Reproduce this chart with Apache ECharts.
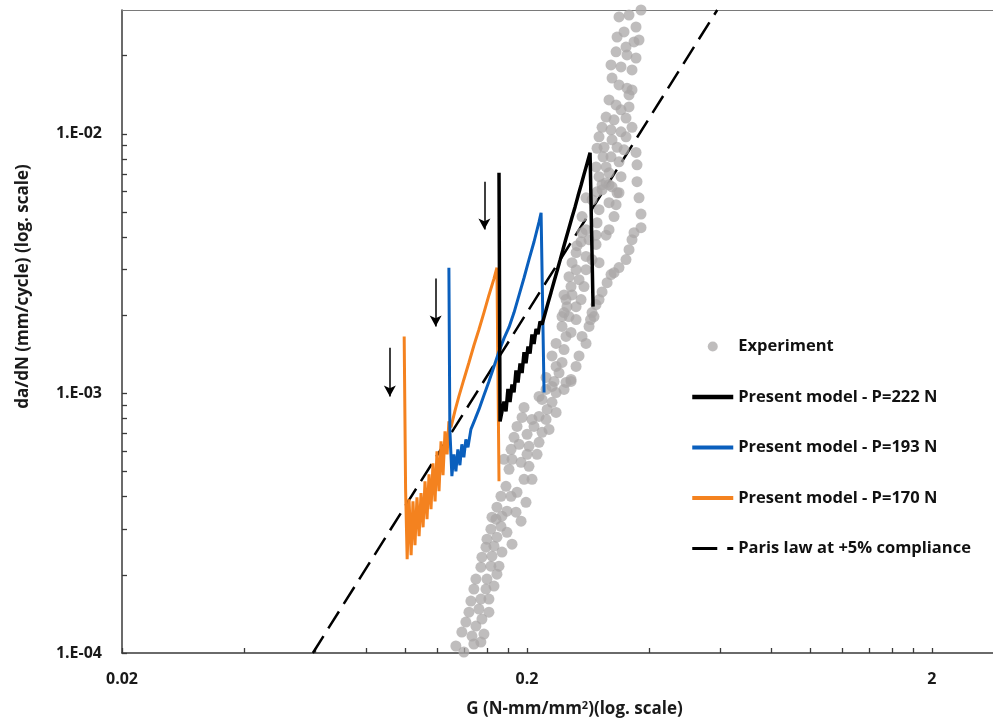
<!DOCTYPE html>
<html>
<head>
<meta charset="utf-8">
<title>da/dN vs G</title>
<script src="https://cdn.jsdelivr.net/npm/echarts@6/dist/echarts.min.js"></script>
<style>
  html, body { margin: 0; padding: 0; background: #fff; }
  #chart { width: 993px; height: 723px; }
</style>
</head>
<body>
<div id="chart"></div>
<script>
// [G (N-mm/mm2), da/dN (mm/cycle)] pairs, both drawn on log10 axes
var experiment = [
  [0.1335,1.064e-4],[0.1397,1.009e-4],[0.1479,1.083e-4],[0.1539,1.102e-4],
  [0.1381,1.204e-4],[0.1463,1.162e-4],[0.1566,1.183e-4],[0.1413,1.316e-4],
  [0.1496,1.270e-4],[0.1548,1.351e-4],[0.1438,1.437e-4],[0.1522,1.476e-4],
  [0.1611,1.437e-4],[0.1454,1.585e-4],[0.1539,1.614e-4],[0.1611,1.614e-4],
  [0.1479,1.763e-4],[0.1584,1.763e-4],[0.1658,1.811e-4],[0.1496,1.926e-4],
  [0.1593,1.926e-4],[0.1686,2.013e-4],[0.1539,2.142e-4],[0.1629,2.161e-4],
  [0.1706,2.161e-4],[0.1548,2.340e-4],[0.1639,2.361e-4],[0.1735,2.448e-4],
  [0.1584,2.557e-4],[0.1658,2.580e-4],[0.1593,2.744e-4],[0.1686,2.793e-4],
  [0.1837,2.626e-4],[0.1629,2.998e-4],[0.1725,3.075e-4],[0.1785,2.918e-4],
  [0.1639,3.335e-4],[0.1735,3.365e-4],[0.1934,3.219e-4],[0.1686,3.644e-4],
  [0.1785,3.517e-4],[0.1879,3.486e-4],[0.1725,4.017e-4],[0.1827,4.017e-4],
  [0.1989,3.808e-4],[0.1775,4.388e-4],[0.1890,4.162e-4],[0.1806,5.101e-4],
  [0.1837,5.574e-4],[0.1827,6.089e-4],[0.1934,5.426e-4],[0.2023,5.240e-4],
  [0.2058,4.669e-4],[0.1967,4.669e-4],[0.1858,6.772e-4],[0.1890,7.464e-4],
  [0.1945,8.084e-4],[0.1967,8.835e-4],[0.2001,6.956e-4],[0.2023,6.254e-4],
  [0.2118,5.827e-4],[0.2142,6.480e-4],[0.2082,7.464e-4],[0.2179,7.080e-4],
  [0.2142,8.157e-4],[0.2229,7.943e-4],[0.2267,7.269e-4],[0.2179,9.482e-4],
  [0.2306,9.237e-4],[0.2360,8.450e-4],[0.2229,1.036e-3],[0.2360,1.008e-3],
  [0.2469,1.036e-3],[0.2497,1.102e-3],[0.2333,1.112e-3],[0.2569,1.112e-3],
  [0.2142,9.740e-4],[0.2306,1.064e-3],[0.2229,1.152e-3],[0.2360,1.270e-3],
  [0.2441,1.316e-3],[0.2306,1.394e-3],[0.2469,1.476e-3],[0.2360,1.558e-3],
  [0.2497,1.658e-3],[0.2441,1.811e-3],[0.2569,1.717e-3],[0.2540,1.978e-3],
  [0.2644,1.926e-3],[0.2735,1.658e-3],[0.2846,1.811e-3],[0.2798,1.558e-3],
  [0.2689,1.394e-3],[0.2644,1.270e-3],[0.2569,1.132e-3],[0.2441,1.978e-3],
  [0.2511,2.159e-3],[0.2644,2.159e-3],[0.2895,2.049e-3],[0.2962,2.199e-3],
  [0.2469,2.395e-3],[0.2584,2.395e-3],[0.2720,2.299e-3],[0.2569,2.579e-3],
  [0.2689,2.744e-3],[0.2766,2.579e-3],[0.2540,2.818e-3],[0.2644,2.998e-3],
  [0.2798,2.998e-3],[0.3065,2.460e-3],[0.3154,2.672e-3],[0.3281,2.919e-3],
  [0.3375,3.055e-3],[0.3512,3.277e-3],[0.3573,3.580e-3],[0.3634,3.911e-3],
  [0.3676,4.160e-3],[0.3825,4.350e-3],[0.3825,4.910e-3],[0.3782,5.670e-3],
  [0.3739,6.540e-3],[0.3319,5.333e-3],[0.3281,4.800e-3],[0.3375,5.930e-3],
  [0.3189,4.273e-3],[0.3136,4.070e-3],[0.2962,3.750e-3],[0.2846,3.911e-3],
  [0.2720,3.840e-3],[0.2644,3.490e-3],[0.2798,3.370e-3],[0.2895,3.277e-3],
  [0.3013,3.190e-3],[0.2735,4.800e-3],[0.2798,4.273e-3],[0.2979,4.545e-3],
  [0.3013,5.101e-3],[0.2895,5.574e-3],[0.3065,6.089e-3],[0.3189,5.430e-3],
  [0.3136,6.480e-3],[0.2798,5.670e-3],[0.2962,4.070e-3],[0.2735,4.160e-3],
  [0.2659,3.710e-3],[0.2584,3.190e-3],[0.2497,2.299e-3],[0.2469,2.049e-3],
  [0.3225,2.869e-3],[0.2928,1.978e-3],[0.2871,1.926e-3],[0.3013,2.299e-3],
  [0.2400,1.200e-3],[0.2243,8.678e-4],[0.2058,7.943e-4],[0.2001,5.827e-4],
  [0.1912,6.366e-4],[0.1755,5.574e-4],[0.1677,3.277e-4],[0.3189,6.366e-3],
  [0.3473,8.678e-3],[0.3573,1.412e-2],[0.3782,2.299e-2],[0.3225,1.843e-2],
  [0.3825,3.000e-2],[0.3573,2.869e-2],[0.3375,2.820e-2],[0.3718,2.580e-2],
  [0.3473,2.470e-2],[0.3338,2.360e-2],[0.3676,2.260e-2],[0.3512,2.160e-2],
  [0.3319,2.070e-2],[0.3718,1.960e-2],[0.3532,2.013e-2],[0.3414,1.810e-2],
  [0.3634,1.763e-2],[0.3244,1.640e-2],[0.3375,1.543e-2],[0.3532,1.500e-2],
  [0.3634,1.476e-2],[0.3189,1.351e-2],[0.3319,1.293e-2],[0.3573,1.270e-2],
  [0.3414,1.237e-2],[0.3136,1.160e-2],[0.3281,1.132e-2],[0.3512,1.150e-2],
  [0.3634,1.060e-2],[0.3065,1.060e-2],[0.3225,1.036e-2],[0.3414,1.018e-2],
  [0.3013,9.740e-3],[0.3244,9.482e-3],[0.3512,9.740e-3],[0.3100,8.880e-3],
  [0.3338,8.880e-3],[0.2979,8.800e-3],[0.3718,8.480e-3],[0.3082,8.160e-3],
  [0.3225,8.160e-3],[0.2962,7.460e-3],[0.3136,7.460e-3],[0.3375,7.800e-3],
  [0.3013,6.840e-3],[0.3189,7.080e-3],[0.3414,6.840e-3],[0.3739,7.600e-3],
  [0.3065,6.366e-3],[0.3244,6.250e-3],[0.3338,5.930e-3],[0.2979,5.980e-3]
];

var model222 = [
  [0.1706,7.08e-3],[0.1716,7.80e-4],[0.1735,7.80e-4],[0.1755,9.31e-4],
  [0.1775,8.53e-4],[0.1795,1.040e-3],[0.1816,9.27e-4],[0.1837,1.083e-3],
  [0.1858,1.009e-3],[0.1879,1.226e-3],[0.1901,1.102e-3],[0.1923,1.304e-3],
  [0.1945,1.199e-3],[0.1967,1.443e-3],[0.1989,1.307e-3],[0.2012,1.516e-3],
  [0.2035,1.425e-3],[0.2058,1.687e-3],[0.2082,1.551e-3],[0.2106,1.771e-3],
  [0.2130,1.691e-3],[0.2154,1.893e-3],[0.2179,1.843e-3],[0.2217,2.03e-3],
  [0.2254,2.23e-3],[0.2293,2.45e-3],[0.2333,2.70e-3],[0.2373,2.96e-3],
  [0.2414,3.26e-3],[0.2455,3.59e-3],[0.2497,3.95e-3],[0.2540,4.34e-3],
  [0.2584,4.77e-3],[0.2629,5.23e-3],[0.2674,5.77e-3],[0.2720,6.34e-3],
  [0.2766,6.98e-3],[0.2814,7.68e-3],[0.2863,8.45e-3],[0.2912,2.16e-3]
];

var model193 = [
  [0.1283,3.05e-3],[0.1290,7.269e-4],[0.1305,4.80e-4],[0.1320,5.827e-4],
  [0.1335,5.01e-4],[0.1350,6.089e-4],[0.1366,5.29e-4],[0.1381,6.366e-4],
  [0.1397,5.67e-4],[0.1413,6.654e-4],[0.1430,6.20e-4],[0.1454,7.269e-4],
  [0.1488,7.943e-4],[0.1522,8.678e-4],[0.1566,9.83e-4],[0.1611,1.112e-3],
  [0.1658,1.27e-3],[0.1706,1.45e-3],[0.1755,1.63e-3],[0.1806,1.80e-3],
  [0.1858,2.049e-3],[0.1912,2.39e-3],[0.1967,2.79e-3],[0.2023,3.277e-3],
  [0.2082,3.84e-3],[0.2142,4.58e-3],[0.2167,4.96e-3],[0.2204,1.008e-3]
];

var model170 = [
  [0.0995,1.658e-3],[0.1003,4.273e-4],[0.1012,2.299e-4],[0.1023,3.911e-4],
  [0.1035,2.38e-4],[0.1046,3.84e-4],[0.1058,2.60e-4],[0.1070,3.98e-4],
  [0.1083,2.82e-4],[0.1095,4.13e-4],[0.1108,3.05e-4],[0.1120,4.59e-4],
  [0.1133,3.277e-4],[0.1146,4.881e-4],[0.1159,3.580e-4],[0.1172,5.38e-4],
  [0.1186,3.84e-4],[0.1199,5.98e-4],[0.1213,4.20e-4],[0.1227,6.54e-4],
  [0.1241,4.84e-4],[0.1255,7.14e-4],[0.1270,5.827e-4],[0.1283,7.80e-4],
  [0.1298,7.40e-4],[0.1331,8.678e-4],[0.1358,9.74e-4],[0.1397,1.132e-3],
  [0.1438,1.316e-3],[0.1479,1.53e-3],[0.1522,1.763e-3],[0.1566,2.049e-3],
  [0.1611,2.39e-3],[0.1658,2.77e-3],[0.1686,3.05e-3],[0.1706,4.59e-4]
];

var parisLaw = [[0.0592, 1.0e-4], [0.590, 3.0e-2]];

// arrows marking the start of each model curve: [from, to]
var arrows = [
  [[0.0917, 1.50e-3], [0.0917, 9.74e-4]],
  [[0.119, 2.77e-3], [0.119, 1.81e-3]],
  [[0.157, 6.54e-3], [0.157, 4.28e-3]]
];

var xTicks = [0.02, 0.2, 2];
var xTickText = ['0.02', '0.2', '2'];
var xMinor = [0.04, 0.06, 0.08, 0.1, 0.12, 0.14, 0.16, 0.18,
  0.4, 0.6, 0.8, 1.0, 1.2, 1.4, 1.6, 1.8];
var yTicks = [1e-4, 1e-3, 1e-2];
var yTickText = ['1.E-04', '1.E-03', '1.E-02'];
var yMinor = [2e-4, 3e-4, 4e-4, 5e-4, 6e-4, 7e-4, 8e-4, 9e-4,
  2e-3, 3e-3, 4e-3, 5e-3, 6e-3, 7e-3, 8e-3, 9e-3, 2e-2];

var X_MIN = 0.02, X_MAX = 2.83, Y_MIN = 1e-4, Y_MAX = 0.03;

var FONT = "'Open Sans', 'Noto Sans', sans-serif";

function lg(v) { return Math.log10(v); }
function toLog(arr) {
  return arr.map(function (p) { return [lg(p[0]), lg(p[1])]; });
}
function pickText(vals, texts) {
  return function (v) {
    for (var i = 0; i < vals.length; i++) {
      if (Math.abs(lg(vals[i]) - v) < 1e-6) return texts[i];
    }
    return '';
  };
}

var chart = echarts.init(document.getElementById('chart'));

var lineLegendStyle = { opacity: 0, borderWidth: 0 };

var option = {
  animation: false,
  backgroundColor: '#ffffff',
  grid: { left: 122, right: -1, top: 10, bottom: 69, containLabel: false },
  xAxis: [
    {
      type: 'value',
      position: 'bottom',
      min: lg(X_MIN), max: lg(X_MAX),
      splitLine: { show: false },
      axisLine: { show: true, onZero: false, lineStyle: { color: '#3a3a3a', width: 1.5 } },
      axisTick: { show: true, inside: true, length: 5,
        customValues: xTicks.concat(xMinor).map(lg),
        lineStyle: { color: '#3a3a3a', width: 1.3 } },
      axisLabel: { customValues: xTicks.map(lg), formatter: pickText(xTicks, xTickText),
        margin: 18, fontFamily: FONT, fontSize: 16, fontWeight: 'bold', color: '#1a1a1a' },
      name: 'G (N-mm/mm{sup|2})(log. scale)',
      nameLocation: 'middle',
      nameGap: 47,
      nameTextStyle: {
        fontFamily: FONT, fontSize: 17, fontWeight: 'bold', color: '#1a1a1a',
        padding: [0, 0, 0, 34],
        rich: { sup: { fontFamily: FONT, fontSize: 11, fontWeight: 'bold', color: '#1a1a1a',
          verticalAlign: 'top', padding: [0, 0, 8, 0] } }
      }
    },
    {
      type: 'value',
      position: 'top',
      min: lg(X_MIN), max: lg(X_MAX),
      splitLine: { show: false },
      axisLine: { show: true, onZero: false, lineStyle: { color: '#7a7a7a', width: 1.2 } },
      axisTick: { show: false },
      axisLabel: { show: false }
    }
  ],
  yAxis: [
    {
      type: 'value',
      position: 'left',
      min: lg(Y_MIN), max: lg(Y_MAX),
      splitLine: { show: false },
      axisLine: { show: true, onZero: false, lineStyle: { color: '#3a3a3a', width: 1.5 } },
      axisTick: { show: true, inside: true, length: 5,
        customValues: yTicks.concat(yMinor).map(lg),
        lineStyle: { color: '#3a3a3a', width: 1.3 } },
      axisLabel: { customValues: yTicks.map(lg), formatter: pickText(yTicks, yTickText),
        margin: 20, fontFamily: FONT, fontSize: 16, fontWeight: 'bold', color: '#1a1a1a' },
      name: 'da/dN (mm/cycle) (log. scale)',
      nameLocation: 'middle',
      nameGap: 90,
      nameTextStyle: {
        fontFamily: FONT, fontSize: 17, fontWeight: 'bold', color: '#1a1a1a',
        padding: [0, 0, 0, 90]
      }
    }
  ],
  legend: {
    orient: 'vertical',
    left: 690,
    top: 338,
    padding: 0,
    itemWidth: 41,
    itemHeight: 10,
    itemGap: 33.5,
    selectedMode: false,
    textStyle: { fontFamily: FONT, fontSize: 16.5, fontWeight: 'bold', color: '#111111' },
    data: [
      { name: 'Experiment', icon: 'circle' },
      { name: 'Present model - P=222 N', lineStyle: { width: 4.5 }, itemStyle: lineLegendStyle },
      { name: 'Present model - P=193 N', lineStyle: { width: 4 }, itemStyle: lineLegendStyle },
      { name: 'Present model - P=170 N', lineStyle: { width: 4 }, itemStyle: lineLegendStyle },
      { name: 'Paris law at +5% compliance', lineStyle: { width: 3, type: [25, 10] }, itemStyle: lineLegendStyle }
    ]
  },
  series: [
    {
      name: 'Paris law at +5% compliance',
      type: 'line',
      data: toLog(parisLaw),
      symbol: 'none',
      silent: true,
      itemStyle: { color: '#000000' },
      lineStyle: { color: '#000000', width: 2.5, type: [20, 9] },
      z: 1,
      markLine: {
        silent: true,
        symbol: ['none', 'arrow'],
        symbolSize: [9, 11],
        label: { show: false },
        lineStyle: { color: '#000000', width: 1.5, type: 'solid' },
        data: arrows.map(function (a) {
          return [{ coord: [lg(a[0][0]), lg(a[0][1])] }, { coord: [lg(a[1][0]), lg(a[1][1])] }];
        })
      }
    },
    {
      name: 'Experiment',
      type: 'scatter',
      data: toLog(experiment),
      symbol: 'circle',
      symbolSize: 11,
      silent: true,
      itemStyle: { color: '#a9a7a7', opacity: 0.75 },
      z: 2
    },
    {
      name: 'Present model - P=170 N',
      type: 'line',
      data: toLog(model170),
      symbol: 'none',
      silent: true,
      itemStyle: { color: '#f4821f' },
      lineStyle: { color: '#f4821f', width: 3 },
      z: 3
    },
    {
      name: 'Present model - P=193 N',
      type: 'line',
      data: toLog(model193),
      symbol: 'none',
      silent: true,
      itemStyle: { color: '#0a5fbd' },
      lineStyle: { color: '#0a5fbd', width: 3 },
      z: 4
    },
    {
      name: 'Present model - P=222 N',
      type: 'line',
      data: toLog(model222),
      symbol: 'none',
      silent: true,
      itemStyle: { color: '#000000' },
      lineStyle: { color: '#000000', width: 3.5 },
      z: 5
    }
  ]
};

chart.setOption(option);
</script>
</body>
</html>
